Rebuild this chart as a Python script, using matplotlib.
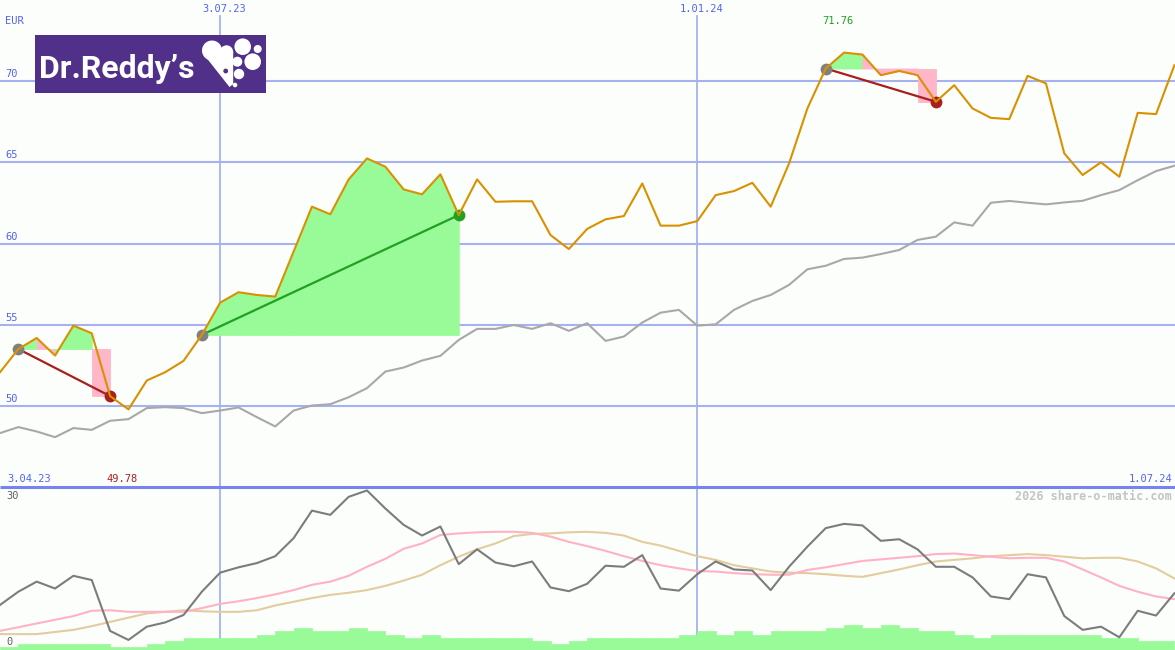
import numpy as np
import pandas as pd
import matplotlib
matplotlib.use("Agg")
import matplotlib.pyplot as plt
from matplotlib.patches import Rectangle, Circle, Polygon

# ---------------- data ----------------
dates = pd.date_range("2023-04-10", periods=65, freq="7D")

price = [52.07, 53.50, 54.18, 53.10, 54.94, 54.47, 50.60, 49.78, 51.56, 52.07,
         52.77, 54.37, 56.36, 57.00, 56.83, 56.73, 59.50, 62.27, 61.80, 63.95,
         65.24, 64.73, 63.33, 63.03, 64.26, 61.75, 63.95, 62.57, 62.60, 62.60,
         60.52, 59.66, 60.90, 61.49, 61.69, 63.70, 61.10, 61.10, 61.38, 62.98,
         63.23, 63.74, 62.27, 64.93, 68.32, 70.78, 71.76, 71.64, 70.37, 70.63,
         70.37, 68.73, 69.75, 68.32, 67.74, 67.66, 70.33, 69.86, 65.55, 64.22,
         65.00, 64.11, 68.05, 67.97, 70.98]

avg = [48.32, 48.69, 48.42, 48.07, 48.63, 48.52, 49.08, 49.18, 49.86, 49.92,
       49.86, 49.55, 49.71, 49.90, 49.30, 48.73, 49.71, 50.02, 50.10, 50.53,
       51.09, 52.11, 52.36, 52.79, 53.08, 54.06, 54.74, 54.74, 54.98, 54.74,
       55.09, 54.62, 55.09, 54.00, 54.27, 55.13, 55.74, 55.91, 54.94, 55.02,
       55.91, 56.46, 56.83, 57.45, 58.41, 58.63, 59.05, 59.13, 59.35, 59.60,
       60.22, 60.42, 61.30, 61.10, 62.51, 62.62, 62.51, 62.41, 62.53, 62.63,
       62.98, 63.29, 63.90, 64.46, 64.79]

osc = [8.5, 11.0, 12.9, 11.6, 14.0, 13.2, 3.6, 1.9, 4.4, 5.2,
       6.6, 11.0, 14.6, 15.6, 16.4, 17.7, 21.1, 26.3, 25.5, 28.9,
       30.1, 26.7, 23.6, 21.6, 23.3, 16.2, 19.0, 16.5, 15.8, 16.7,
       11.8, 11.1, 12.5, 15.9, 15.7, 17.9, 11.6, 11.2, 14.3, 16.7,
       15.2, 15.0, 11.3, 15.7, 19.5, 23.0, 23.8, 23.5, 20.6, 20.9,
       19.0, 15.7, 15.7, 13.7, 10.1, 9.6, 14.3, 13.7, 6.4, 3.8,
       4.4, 2.4, 7.4, 6.5, 10.7]

osc_pink = [3.6, 4.3, 5.0, 5.7, 6.4, 7.4, 7.5, 7.2, 7.2, 7.2,
            7.2, 7.9, 8.7, 9.2, 9.8, 10.5, 11.3, 12.3, 12.9, 14.0,
            15.7, 17.2, 19.1, 20.1, 21.7, 22.0, 22.2, 22.3, 22.3, 22.1,
            21.4, 20.4, 19.6, 18.7, 17.7, 16.8, 16.0, 15.4, 14.9, 14.8,
            14.5, 14.3, 14.2, 14.2, 15.1, 15.6, 16.2, 16.8, 17.1, 17.4,
            17.7, 18.1, 18.2, 17.9, 17.6, 17.3, 17.4, 17.4, 16.7, 15.2,
            13.7, 12.1, 11.0, 10.1, 9.6]

osc_tan = [3.0, 3.0, 3.0, 3.4, 3.8, 4.5, 5.3, 6.1, 6.9, 7.2,
           7.5, 7.3, 7.2, 7.2, 7.5, 8.4, 9.1, 9.8, 10.4, 10.8,
           11.3, 12.1, 13.1, 14.2, 16.0, 17.6, 19.0, 20.1, 21.5, 21.9,
           22.0, 22.2, 22.3, 22.1, 21.6, 20.4, 19.7, 18.7, 17.7, 17.0,
           16.0, 15.4, 14.8, 14.6, 14.5, 14.3, 14.0, 13.8, 14.5, 15.2,
           16.0, 16.7, 17.0, 17.3, 17.7, 17.9, 18.1, 17.9, 17.6, 17.3,
           17.4, 17.4, 16.7, 15.4, 13.5]

volume = [0.6, 1.1, 1.1, 1.1, 1.1, 1.1, 0.6, 0.6, 1.1, 1.7,
          2.3, 2.3, 2.3, 2.3, 2.8, 3.6, 4.2, 3.6, 3.6, 4.2,
          3.6, 2.8, 2.3, 2.8, 2.3, 2.3, 2.3, 2.3, 2.3, 1.7,
          1.1, 1.7, 2.3, 2.3, 2.3, 2.3, 2.3, 2.8, 3.6, 2.8,
          3.6, 2.8, 3.6, 3.6, 3.6, 4.2, 4.7, 4.2, 4.7, 4.2,
          3.6, 3.6, 2.8, 2.3, 2.8, 2.8, 2.8, 2.8, 2.8, 2.8,
          2.3, 2.3, 1.7, 1.7]

trade_start = [1, 11, 45]
trade_end = [6, 25, 51]

vline_dates = ["2023-07-03", "2024-01-01"]
vline_labels = ["3.07.23", "1.01.24"]
start_label = "3.04.23"
end_label = "1.07.24"
yticks = [50, 55, 60, 65, 70]
lower_labels = ["30", "0"]
currency = "EUR"
watermark = "2026 share-o-matic.com"
logo_text = "Dr.Reddy\u2019s"

# ---------------- style ----------------
BG = "#fcfefc"
GRID = "#a6b2f0"
SEP = "#7884ee"
LBL = "#5464f0"
ORANGE = "#d99100"
GRAY_MA = "#a8a8a8"
GREEN_FILL = "#98fb98"
PINK_FILL = "#ffb6c8"
RED = "#a8201c"
GREEN = "#22a022"
MONO = "DejaVu Sans Mono"

W, H = 1175, 650
fig = plt.figure(figsize=(W / 100, H / 100), dpi=100)
fig.patch.set_facecolor(BG)

split = 163 / H
ax = fig.add_axes([0, split, 1, 1 - split])
lx = fig.add_axes([0, 0, 1, split])

x0 = dates[0]
x1 = dates[0] + pd.Timedelta(days=7 * 1175 / 18.35)

for a in (ax, lx):
    a.set_facecolor(BG)
    a.set_xlim(x0, x1)
    a.set_xticks([])
    a.set_yticks([])
    for s in a.spines.values():
        s.set_visible(False)

ax.set_ylim(45, 75)
lx.set_ylim(0, 163 / 5.3)

# grid
for v in yticks:
    ax.axhline(v, color=GRID, lw=1.5, zorder=1)
    ax.annotate(str(v), xy=(0, v), xycoords=("axes fraction", "data"),
                xytext=(5, 2), textcoords="offset pixels", ha="left", va="bottom",
                fontsize=7.5, family=MONO, color=LBL)
for d, lab in zip(vline_dates, vline_labels):
    dt = pd.Timestamp(d)
    ax.axvline(dt, ymin=0, ymax=1 - 16 / 487, color=GRID, lw=1.3, zorder=1)
    lx.axvline(dt, color=GRID, lw=1.3, zorder=1)
    ax.annotate(lab, xy=(dt, 1), xycoords=("data", "axes fraction"),
                xytext=(4, -9), textcoords="offset pixels", ha="center", va="center",
                fontsize=7.5, family=MONO, color=LBL)

ax.annotate(currency, xy=(0, 1), xycoords="axes fraction", xytext=(5, -21),
            textcoords="offset pixels", ha="left", va="center",
            fontsize=7.5, family=MONO, color=LBL)
ax.annotate(start_label, xy=(0, 0), xycoords="axes fraction", xytext=(7, 8),
            textcoords="offset pixels", ha="left", va="center",
            fontsize=7.5, family=MONO, color=LBL)
ax.annotate(end_label, xy=(1, 0), xycoords="axes fraction", xytext=(-3, 8),
            textcoords="offset pixels", ha="right", va="center",
            fontsize=7.5, family=MONO, color=LBL)

# trades fills
p = np.array(price)
for s, e in zip(trade_start, trade_end):
    level = p[s]
    win = p[e] > level
    for k in range(s, e):
        col = GREEN_FILL if p[k + 1] > level else PINK_FILL
        if (not win) and k == e - 1:
            ax.fill_between(dates[k:k + 2], level, p[e], facecolor=col,
                            edgecolor=col, lw=0.6, zorder=2)
        else:
            ax.fill_between(dates[k:k + 2], p[k:k + 2], level, facecolor=col,
                            edgecolor=col, lw=0.6, zorder=2)

ax.plot(dates, avg, color=GRAY_MA, lw=1.5, zorder=3)

for s, e in zip(trade_start, trade_end):
    win = p[e] > p[s]
    c = GREEN if win else RED
    ax.plot([dates[s], dates[e]], [p[s], p[e]], color=c, lw=1.6, zorder=4)
    ax.plot(dates[s], p[s], "o", color="#808080", ms=8.5, mew=0, zorder=4)
    ax.plot(dates[e], p[e], "o", color=c, ms=8.5, mew=0, zorder=4)

ax.plot(dates, price, color=ORANGE, lw=1.5, zorder=5)

imax = int(np.argmax(p))
imin = int(np.argmin(p))
ax.annotate(f"{p[imax]:.2f}", xy=(dates[imax], 1), xycoords=("data", "axes fraction"),
            xytext=(-6, -21), textcoords="offset pixels", ha="center", va="center",
            fontsize=7.5, family=MONO, color=GREEN)
ax.annotate(f"{p[imin]:.2f}", xy=(dates[imin], 0), xycoords=("data", "axes fraction"),
            xytext=(-6, 8), textcoords="offset pixels", ha="center", va="center",
            fontsize=7.5, family=MONO, color=RED)

# lower panel
lx.bar(dates[:-1], volume, width=7, align="edge", color=GREEN_FILL,
       edgecolor=GREEN_FILL, lw=0.5, zorder=2)
lx.plot(dates, osc_tan, color="#e3cc9e", lw=1.5, zorder=3)
lx.plot(dates, osc_pink, color="#ffb2c6", lw=1.5, zorder=3)
lx.plot(dates, osc, color="#7c7c7c", lw=1.5, zorder=4)
lx.annotate(lower_labels[0], xy=(0, 1), xycoords="axes fraction", xytext=(6, -9),
            textcoords="offset pixels", ha="left", va="center",
            fontsize=7.5, family=MONO, color="#606060")
lx.annotate(lower_labels[1], xy=(0, 0), xycoords="axes fraction", xytext=(6, 8),
            textcoords="offset pixels", ha="left", va="center",
            fontsize=7.5, family=MONO, color="#606060")
lx.annotate(watermark, xy=(1, 1), xycoords="axes fraction", xytext=(-3, -9),
            textcoords="offset pixels", ha="right", va="center",
            fontsize=8.5, family=MONO, fontweight="bold", color="#c4c4c4")

# overlay (pixel coordinates): separator and logo
ov = fig.add_axes([0, 0, 1, 1], zorder=10)
ov.set_xlim(0, W)
ov.set_ylim(H, 0)
ov.axis("off")
ov.patch.set_alpha(0)
ov.plot([0, W], [487, 487], color=SEP, lw=2.2, solid_capstyle="butt")

PURPLE = "#51308a"
ov.add_patch(Rectangle((35, 35), 231, 58, color=PURPLE, lw=0))
ov.text(39, 69, logo_text, color="white", fontsize=23, family="Roboto",
        fontweight="bold", ha="left", va="center")
# heart
ov.add_patch(Circle((212, 50.5), 10, color="white", lw=0))
ov.add_patch(Circle((226.5, 52), 6.7, color="white", lw=0))
ov.add_patch(Polygon([(202.6, 53), (229.5, 87), (233.2, 84), (233.2, 52), (220, 48)],
                     closed=True, color="white", lw=0))
ov.add_patch(Circle((225.7, 71), 2.4, color=PURPLE, lw=0))
for cx, cy, r in [(242.7, 46.7, 8.3), (257.7, 49, 4), (252.7, 61.7, 8.3),
                  (237.3, 61.7, 5), (239, 74, 5.2), (235, 85, 2.3)]:
    ov.add_patch(Circle((cx, cy), r, color="white", lw=0))

fig.savefig("out.png", dpi=100, facecolor=BG)
